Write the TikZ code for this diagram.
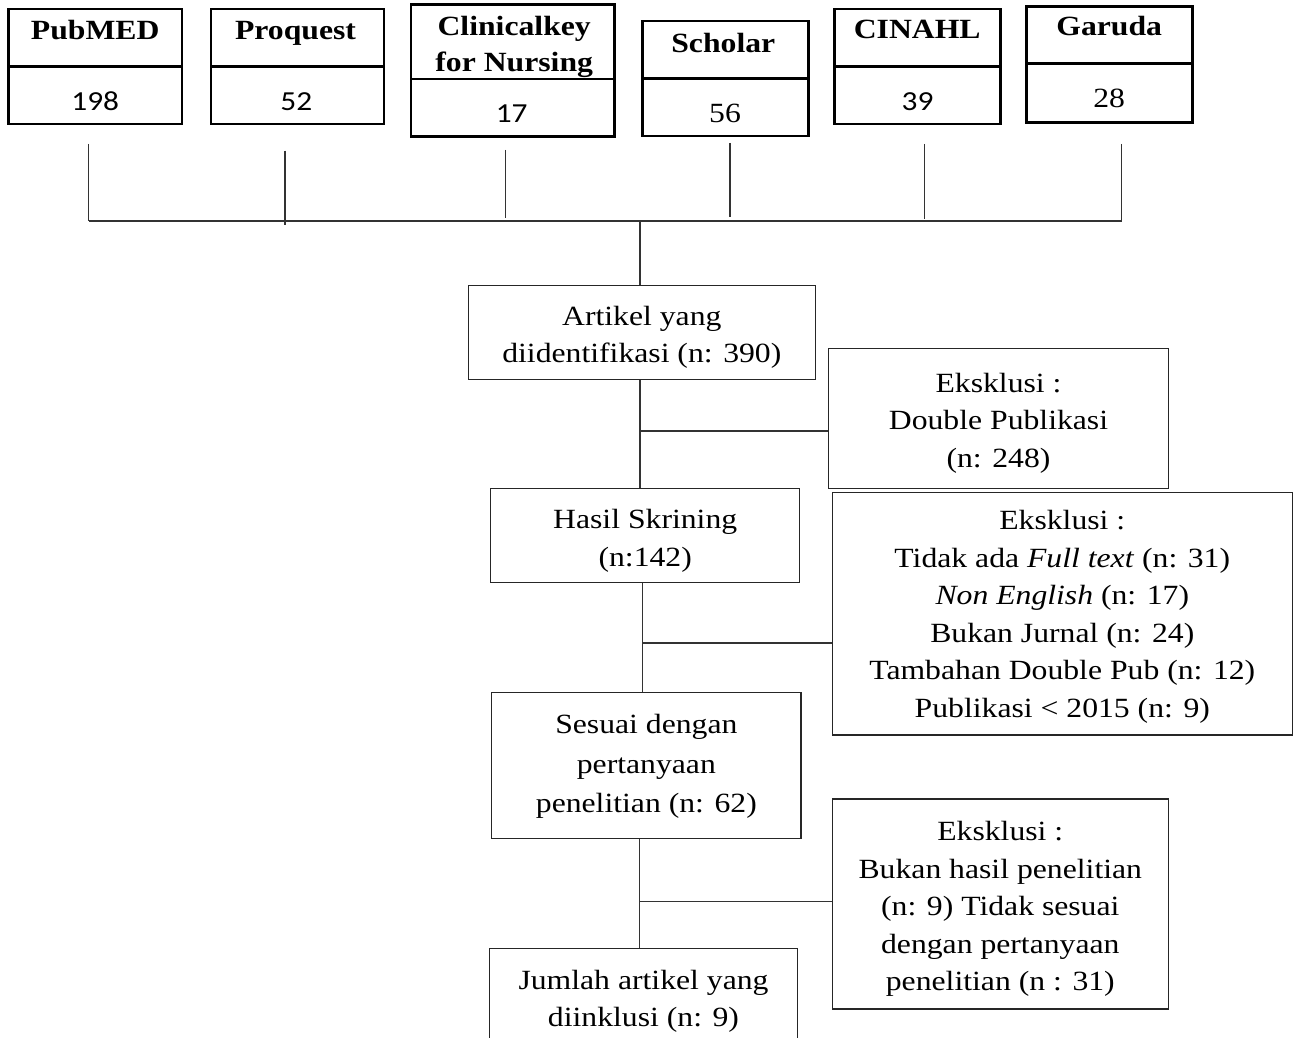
\documentclass[tikz,border=0pt]{standalone}
\usepackage{fontspec}
\setmainfont{Liberation Serif}[FakeStretch=1.14]
\newfontfamily\calfont{Carlito}[FakeStretch=1.14]
\usetikzlibrary{calc}
\tikzset{
  dbbox/.style={draw=black, line width=2.6pt, inner sep=0pt},
  dbhead/.style={inner sep=0pt, font=\bfseries\fontsize{27.8}{32}\selectfont},
  dbnum/.style={inner sep=0pt, font=\calfont\fontsize{27.5}{32}\selectfont},
  dbnumt/.style={inner sep=0pt, font=\fontsize{27.8}{32}\selectfont},
  flowbox/.style={draw=black!85, line width=1.3pt, inner sep=0pt},
  flowtext/.style={inner sep=0pt, align=center, font=\fontsize{27.8}{37.5}\selectfont},
  conn/.style={draw=black!80, line width=1.3pt}
}
\begin{document}
\begin{tikzpicture}[x={(1pt,0)}, y={(0,-1pt)}]
\useasboundingbox (0,0) rectangle (1299,1038);
\clip (0,0) rectangle (1299,1038);
\fill[white] (0,0) rectangle (1299,1038);

% ---- database boxes ----
% PubMED
\node[dbbox, minimum width=173.7, minimum height=57.7] (pubH) at (95.15,37.85) {};
\node[dbbox, minimum width=173.7, minimum height=57.3] (pubN) at (95.15,95.35) {};
\node[dbhead, anchor=base] (pubT) at (95.2,39.5) {PubMED};
\node[dbnum, anchor=base] (pubV) at (95.2,111) {198};
% Proquest
\node[dbbox, minimum width=173, minimum height=57.7] (proH) at (297.5,37.85) {};
\node[dbbox, minimum width=173, minimum height=57.3] (proN) at (297.5,95.35) {};
\node[dbhead, anchor=base] (proT) at (295.5,39.3) {Proquest};
\node[dbnum, anchor=base] (proV) at (296.3,111) {52};
% Clinicalkey
\node[dbbox, minimum width=203.3, minimum height=74.3] (cliH) at (512.65,41.85) {};
\node[dbbox, minimum width=203.3, minimum height=57.7] (cliN) at (512.65,107.85) {};
\node[dbhead, anchor=base] (cliT1) at (514.2,36) {Clinicalkey};
\node[dbhead, anchor=base] (cliT2) at (514.2,71.7) {for Nursing};
\node[dbnum, anchor=base] (cliV) at (511.7,122.7) {17};
% Scholar
\node[dbbox, minimum width=165.6, minimum height=57.7] (schH) at (725.5,49.85) {};
\node[dbbox, minimum width=165.6, minimum height=57.3] (schN) at (725.5,107.35) {};
\node[dbhead, anchor=base] (schT) at (723.3,52.7) {Scholar};
\node[dbnumt, anchor=base] (schV) at (725,122.7) {56};
% CINAHL
\node[dbbox, minimum width=165.6, minimum height=57.7] (cinH) at (917.5,37.85) {};
\node[dbbox, minimum width=165.6, minimum height=57.3] (cinN) at (917.5,95.35) {};
\node[dbhead, anchor=base] (cinT) at (917.2,38.3) {CINAHL};
\node[dbnum, anchor=base] (cinV) at (917.5,110.7) {39};
% Garuda
\node[dbbox, minimum width=165.6, minimum height=57] (garH) at (1109.5,35.2) {};
\node[dbbox, minimum width=165.6, minimum height=58.6] (garN) at (1109.5,93) {};
\node[dbhead, anchor=base] (garT) at (1109.2,36) {Garuda};
\node[dbnumt, anchor=base] (garV) at (1109.2,107.7) {28};

% ---- gathering lines ----
\coordinate (v1a) at (88.7,144);   \coordinate (v1b) at (88.7,221);
\coordinate (v2a) at (285,150.7);  \coordinate (v2b) at (285,225);
\coordinate (v3a) at (505.3,150);  \coordinate (v3b) at (505.3,218);
\coordinate (v4a) at (730,143);    \coordinate (v4b) at (730,217);
\coordinate (v5a) at (924.7,144);  \coordinate (v5b) at (924.7,219);
\coordinate (v6a) at (1121.7,144); \coordinate (v6b) at (1121.7,221);
\draw[conn] (v1a) -- (v1b);
\draw[conn] (v2a) -- (v2b);
\draw[conn] (v3a) -- (v3b);
\draw[conn] (v4a) -- (v4b);
\draw[conn] (v5a) -- (v5b);
\draw[conn] (v6a) -- (v6b);
\draw[conn] (v1b) -- (v6b);

% ---- flow boxes ----
\node[flowbox, minimum width=347, minimum height=93.6] (artikel) at (641.8,332.5) {};
\node[flowtext] (artikelT) at ($(artikel.center)+(0,5)$)
  {Artikel yang\\diidentifikasi (n: 390)};
\node[flowbox, minimum width=340.4, minimum height=140] (excl1) at (998.5,418.3) {};
\node[flowtext] (excl1T) at ($(excl1.center)+(0,5)$)
  {Eksklusi :\\Double Publikasi\\(n: 248)};
\node[flowbox, minimum width=309, minimum height=94] (hasil) at (645.2,535.7) {};
\node[flowtext] (hasilT) at ($(hasil.center)+(0,5)$)
  {Hasil Skrining\\(n:142)};
\node[flowbox, minimum width=460, minimum height=242.3] (excl2) at (1062.3,613.85) {};
\node[flowtext] (excl2T) at ($(excl2.center)+(0,3)$)
  {Eksklusi :\\Tidak ada \textit{Full text} (n: 31)\\\textit{Non English} (n: 17)\\Bukan Jurnal (n: 24)\\Tambahan Double Pub (n: 12)\\Publikasi < 2015 (n: 9)};
\node[flowbox, minimum width=309.3, minimum height=146] (sesuai) at (646.35,765.7) {};
\node[flowtext, font=\fontsize{27.8}{39.5}\selectfont] (sesuaiT) at ($(sesuai.center)+(0,1)$)
  {Sesuai dengan\\pertanyaan\\penelitian (n: 62)};
\node[flowbox, minimum width=336, minimum height=210] (excl3) at (1000.3,904) {};
\node[flowtext] (excl3T) at ($(excl3.center)+(0,5)$)
  {Eksklusi :\\Bukan hasil penelitian\\(n: 9) Tidak sesuai\\dengan pertanyaan\\penelitian (n : 31)};
\node[flowbox, minimum width=308.4, minimum height=99.7] (jumlah) at (643.5,998.15) {};
\node[flowtext] (jumlahT) at ($(jumlah.center)+(0,3)$)
  {Jumlah artikel yang\\diinklusi (n: 9)};

% ---- flow connectors ----
\coordinate (tk) at (640,221);
\draw[conn] (tk) -- (tk |- artikel.north);
\draw[conn] (artikel.south -| tk) -- (hasil.north -| tk);
\coordinate (b1) at (640,431);
\draw[conn] (b1) -- (b1 -| excl1.west);

\coordinate (b2) at (642.3,643);
\draw[conn] (hasil.south -| b2) -- (sesuai.north -| b2);
\draw[conn] (b2) -- (b2 -| excl2.west);

\coordinate (b3) at (639.5,901.7);
\draw[conn] (sesuai.south -| b3) -- (jumlah.north -| b3);
\draw[conn] (b3) -- (b3 -| excl3.west);
\end{tikzpicture}
\end{document}
